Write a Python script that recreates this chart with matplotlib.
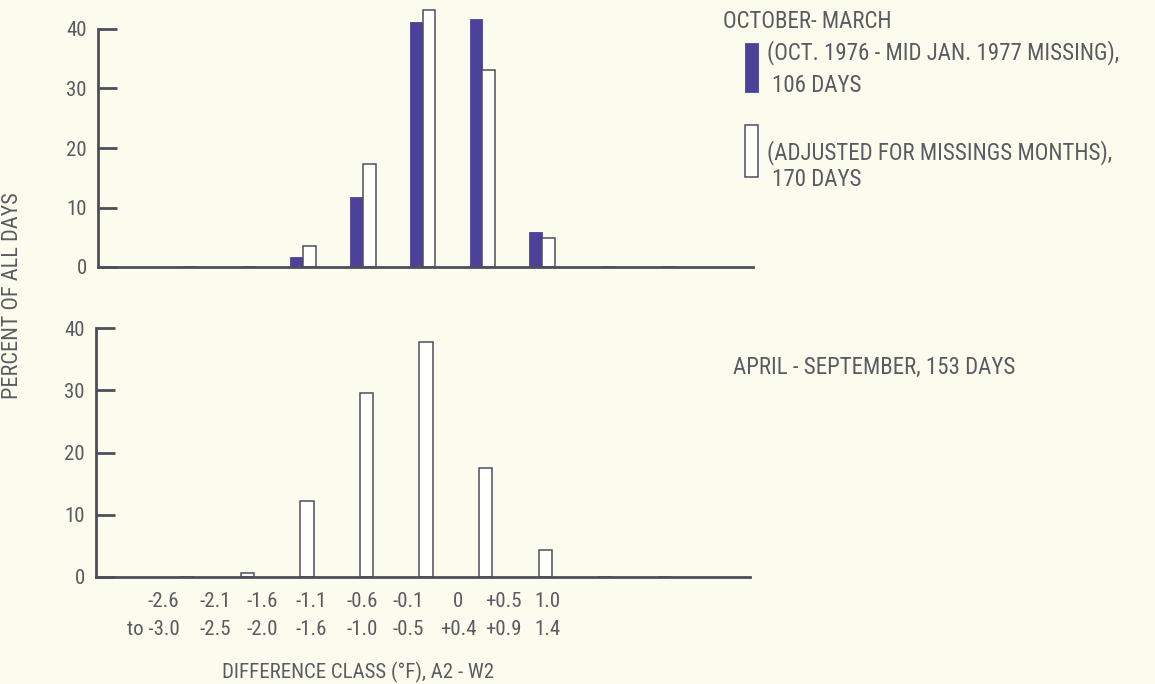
import numpy as np
import matplotlib
matplotlib.use("Agg")
import matplotlib.pyplot as plt
from matplotlib import font_manager
from matplotlib.patches import Rectangle

# Difference classes (deg F), A2 - W2
class_low = ["-2.6", "-2.1", "-1.6", "-1.1", "-0.6", "-0.1", "0", "+0.5", "1.0"]
class_high = ["to -3.0", "-2.5", "-2.0", "-1.6", "-1.0", "-0.5", "+0.4", "+0.9", "1.4"]

# Percent of all days in each class
oct_mar_missing = [0, 0, 1.7, 11.8, 41.2, 41.7, 5.9, 0, 0]    # 106 days
oct_mar_adjusted = [0, 0, 3.5, 17.3, 43.2, 33.1, 4.9, 0, 0]   # 170 days
apr_sep = [0, 0.7, 12.2, 29.5, 37.7, 17.5, 4.4, 0, 0]         # 153 days

y_ticks = [0, 10, 20, 30, 40]

# ---------------------------------------------------------------- style
available = {f.name for f in font_manager.fontManager.ttflist}
FONT = "DejaVu Sans"
for fam in ["Liberation Sans Narrow", "Roboto Condensed", "Open Sans Condensed"]:
    if fam in available:
        FONT = fam
        break
plt.rcParams["font.family"] = [FONT, "DejaVu Sans"]

BG = "#fcfcee"
INK = "#4e4e5c"
TXT = "#5a5a62"
FILL = "#4d429a"
OPEN = "#fefefa"

W, H = 1155, 684
DPI = 100


def fx(px):
    return px / W


def fy(py):
    return 1 - py / H


fig = plt.figure(figsize=(W / DPI, H / DPI), dpi=DPI, facecolor=BG)

idx = np.arange(len(class_low))
bw = 0.215


def style_axes(ax):
    ax.set_facecolor("none")
    for s in ["top", "right"]:
        ax.spines[s].set_visible(False)
    for s in ["left", "bottom"]:
        ax.spines[s].set_color(INK)
        ax.spines[s].set_linewidth(2.0)
        ax.spines[s].set_capstyle("projecting")
    ax.spines["left"].set_bounds(0, 40)
    ax.set_yticks(y_ticks)
    ax.tick_params(axis="y", direction="in", length=13.5, width=2.0,
                   color=INK, pad=8, labelsize=15, labelcolor=TXT)


# ---------------------------------------------------------------- top panel
ax1 = fig.add_axes([fx(98), fy(267), fx(753) - fx(98), 267 / H])
style_axes(ax1)
ax1.bar(idx, oct_mar_missing, width=-bw, align="edge", color=FILL,
        edgecolor=FILL, linewidth=0.6)
ax1.bar(idx, oct_mar_adjusted, width=bw, align="edge", color=OPEN,
        edgecolor=INK, linewidth=1.1)
ax1.set_xlim(-1.428, 9.525)
ax1.set_ylim(0, 267 / 5.95)
ax1.set_xticks([])

# ---------------------------------------------------------------- bottom panel
ax2 = fig.add_axes([fx(96), fy(577), fx(750) - fx(96), 257 / H])
style_axes(ax2)
ax2.bar(idx, apr_sep, width=0.225, color=OPEN, edgecolor=INK, linewidth=1.1)
ax2.set_xlim(-1.540, 9.433)
ax2.set_ylim(0, 257 / 6.225)

label_px = [153, 215, 262, 311, 362, 408, 458, 503, 547]
label_pos = [2 + (p - 307) / 59.6 for p in label_px]
ax2.set_xticks(label_pos, [f"{a}\n{b}" for a, b in zip(class_low, class_high)])
ax2.tick_params(axis="x", length=0, pad=10.5, labelsize=15, labelcolor=TXT)
for t in ax2.get_xticklabels():
    t.set_linespacing(1.6)
ax2.get_xticklabels()[0].set_multialignment("right")

# ---------------------------------------------------------------- labels
fig.text(fx(13), fy(296), "PERCENT OF ALL DAYS", rotation=90,
         ha="center", va="center", fontsize=16, color=TXT)
fig.text(fx(358), fy(672), "DIFFERENCE CLASS (°F), A2 - W2",
         ha="center", va="center", fontsize=15, color=TXT)

LEG = 16.5
fig.text(fx(723), fy(21), "OCTOBER- MARCH", ha="left", va="center",
         fontsize=LEG, color=TXT)
fig.text(fx(767), fy(53), "(OCT. 1976 - MID JAN. 1977 MISSING),",
         ha="left", va="center", fontsize=LEG, color=TXT)
fig.text(fx(772), fy(85), "106 DAYS", ha="left", va="center",
         fontsize=LEG, color=TXT)
fig.text(fx(767), fy(153), "(ADJUSTED FOR MISSINGS MONTHS),",
         ha="left", va="center", fontsize=LEG, color=TXT)
fig.text(fx(772), fy(179), "170 DAYS", ha="left", va="center",
         fontsize=LEG, color=TXT)
fig.text(fx(733), fy(367), "APRIL - SEPTEMBER, 153 DAYS", ha="left",
         va="center", fontsize=LEG, color=TXT)

# legend swatches
fig.patches.append(Rectangle((fx(745), fy(92)), 13 / W, 49 / H,
                             transform=fig.transFigure, facecolor=FILL,
                             edgecolor=FILL, linewidth=0.6))
fig.patches.append(Rectangle((fx(745), fy(177)), 13 / W, 52 / H,
                             transform=fig.transFigure, facecolor=OPEN,
                             edgecolor=INK, linewidth=1.1))

fig.savefig("out.png", dpi=DPI, facecolor=BG)
